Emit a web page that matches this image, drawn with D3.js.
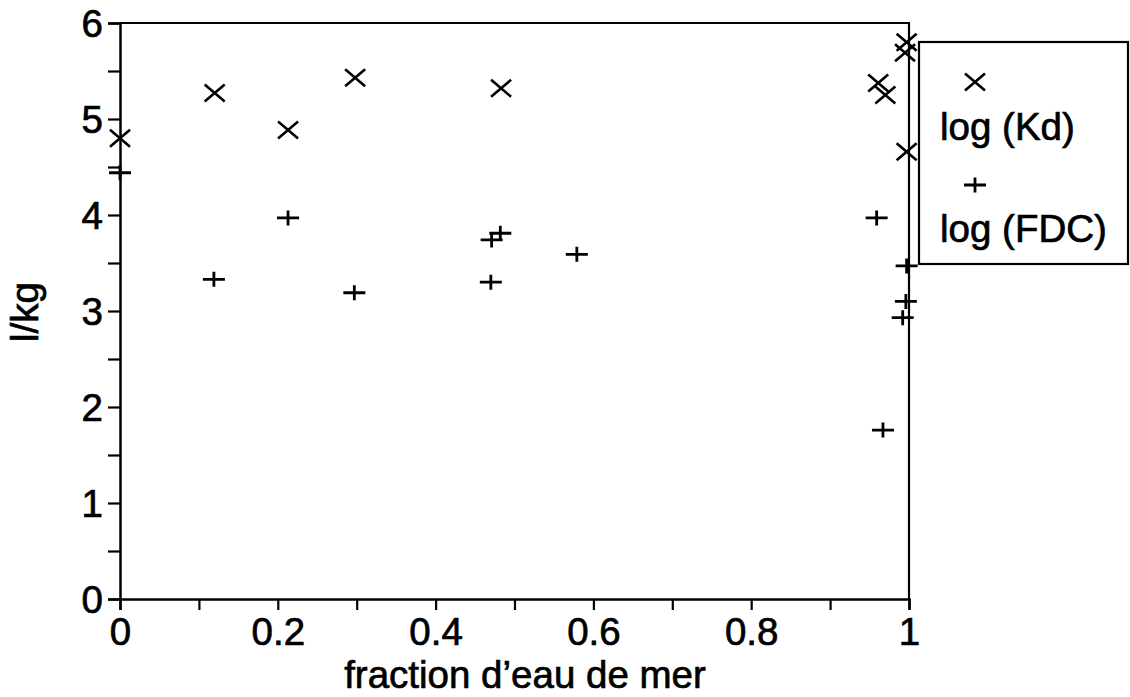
<!DOCTYPE html>
<html>
<head>
<meta charset="utf-8">
<script src="https://cdn.jsdelivr.net/npm/d3@7"></script>
<style>
  html, body { margin: 0; padding: 0; background: #fff; }
  svg { display: block; }
  text { font-family: "Liberation Sans", Arial, Helvetica, sans-serif; fill: #000; }
</style>
</head>
<body>
<svg id="chart" width="1130" height="697"></svg>
<script>
// ---- data ----
const kdX  = [0, 0.120, 0.213, 0.298, 0.483, 0.961, 0.970, 0.997, 0.995, 0.997];
const kdY  = [4.80, 5.27, 4.885, 5.43, 5.32, 5.375, 5.25, 5.80, 5.69, 4.66];
const fdcX = [0, 0.119, 0.213, 0.297, 0.470, 0.471, 0.482, 0.579, 0.959, 0.967, 0.997, 0.996, 0.992];
const fdcY = [4.44, 3.33, 3.97, 3.19, 3.30, 3.74, 3.81, 3.59, 3.97, 1.76, 3.47, 3.10, 2.93];
const xTicks = [0, 0.1, 0.2, 0.3, 0.4, 0.5, 0.6, 0.7, 0.8, 0.9, 1];
const xLabels = ["0", "", "0.2", "", "0.4", "", "0.6", "", "0.8", "", "1"];
const yTicks = [0, 0.5, 1, 1.5, 2, 2.5, 3, 3.5, 4, 4.5, 5, 5.5, 6];
const yLabels = ["0", "", "1", "", "2", "", "3", "", "4", "", "5", "", "6"];
const seriesNames = ["log (Kd)", "log (FDC)"];
const xTitle = "fraction d\u2019eau de mer";
const yTitle = "l/kg";

// ---- layout ----
const svg = d3.select("#chart");
const x = d3.scaleLinear().domain([0, 1]).range([120, 909]);
const y = d3.scaleLinear().domain([0, 6]).range([599, 23]);
const FS = 38.5;
const TW = 0.7; // slight text stroke to mimic heavier print

function styleText(sel) {
  return sel.attr("fill", "#000").attr("stroke", "#000").attr("stroke-width", TW);
}

// frame (top and right)
svg.append("path")
  .attr("d", `M${x(0)},${y(6)}H${x(1)}V${y(0)}`)
  .attr("fill", "none").attr("stroke", "#000").attr("stroke-width", 2.2);

// axes
const xAxis = d3.axisBottom(x).tickValues(xTicks)
  .tickFormat((d, i) => xLabels[i]).tickSize(11).tickPadding(8);
const gx = svg.append("g").attr("transform", `translate(0,${y(0)})`).call(xAxis);
const yAxis = d3.axisLeft(y).tickValues(yTicks)
  .tickFormat((d, i) => yLabels[i]).tickSize(12).tickPadding(5);
const gy = svg.append("g").attr("transform", `translate(${x(0)},0)`).call(yAxis);

[gx, gy].forEach(g => {
  g.select(".domain").attr("stroke", "#000").attr("stroke-width", 2.5);
  g.selectAll(".tick line").attr("stroke", "#000").attr("stroke-width", 2.2);
  styleText(g.selectAll(".tick text").attr("font-size", FS)
    .style("font-family", "'Liberation Sans', Arial, sans-serif"));
});
gx.selectAll(".tick text").attr("dy", "0.71em");
gy.selectAll(".tick text").attr("dy", "0.36em");

// axis titles
styleText(svg.append("text").attr("x", 525).attr("y", 688)
  .attr("text-anchor", "middle").attr("font-size", 38.5).text(xTitle));
styleText(svg.append("text")
  .attr("transform", `translate(38,312) rotate(-90)`)
  .attr("text-anchor", "middle").attr("font-size", FS).text(yTitle));

// markers
function crossPath(cx, cy) {
  const w = 10, h = 8.5;
  return `M${cx - w},${cy - h}L${cx + w},${cy + h}M${cx - w},${cy + h}L${cx + w},${cy - h}`;
}
function plusPath(cx, cy) {
  const w = 11, h = 7.5;
  return `M${cx - w},${cy}H${cx + w}M${cx},${cy - h}V${cy + h}`;
}

const kd = kdX.map((v, i) => ({ x: v, y: kdY[i] }));
const fdc = fdcX.map((v, i) => ({ x: v, y: fdcY[i] }));

svg.append("g").selectAll("path").data(kd).join("path")
  .attr("d", d => crossPath(x(d.x), y(d.y)))
  .attr("stroke", "#000").attr("stroke-width", 2.6).attr("fill", "none");
svg.append("g").selectAll("path").data(fdc).join("path")
  .attr("d", d => plusPath(x(d.x), y(d.y)))
  .attr("stroke", "#000").attr("stroke-width", 2.8).attr("fill", "none");

// legend
const lg = svg.append("g");
lg.append("rect").attr("x", 919).attr("y", 42).attr("width", 209).attr("height", 222)
  .attr("fill", "#fff").attr("stroke", "#000").attr("stroke-width", 2.2);
lg.append("path").attr("d", crossPath(975, 82))
  .attr("stroke", "#000").attr("stroke-width", 2.6).attr("fill", "none");
styleText(lg.append("text").attr("x", 940).attr("y", 140).attr("font-size", FS).text(seriesNames[0]));
lg.append("path").attr("d", plusPath(975, 185))
  .attr("stroke", "#000").attr("stroke-width", 2.8).attr("fill", "none");
styleText(lg.append("text").attr("x", 940).attr("y", 242).attr("font-size", FS).text(seriesNames[1]));
</script>
</body>
</html>
